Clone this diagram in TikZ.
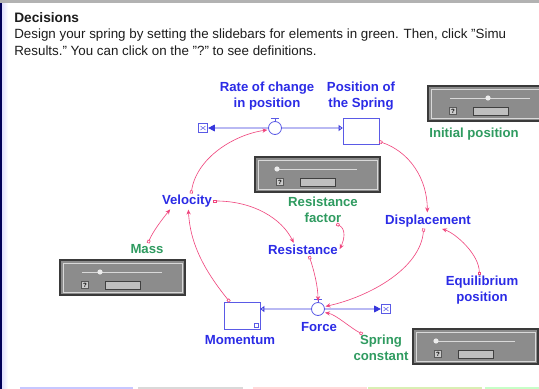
\documentclass[tikz,border=0pt]{standalone}
\usepackage{fontspec}
\setmainfont{Liberation Sans}
\usepackage{tikz}
\usetikzlibrary{arrows.meta, positioning, calc}
\definecolor{varblue}{HTML}{2B2BE6}
\definecolor{pargreen}{HTML}{2F9B60}
\definecolor{linkpink}{HTML}{F0457D}
\definecolor{pipeblue}{HTML}{3636DC}
\definecolor{stockblue}{HTML}{5A5AE6}
\definecolor{sliderdark}{HTML}{3A3A3A}
\definecolor{slidergrey}{HTML}{8C8C8C}
\definecolor{headtext}{HTML}{1C1C1C}

% one slidebar: #1 name, #2 top left corner, #3 knob offset
\newcommand{\slidebar}[3]{%
  \begin{scope}[shift={#2}]
    \node[sliderbox] (#1) at (62.5,17.5) {};
    \draw[sliderrim] (3,3) rectangle (122,32);
    \draw[sliderrail] (22,12) -- (102,12);
    \fill[white!85!gray] (22+#3,12) circle (2.6);
    \node[helpbox] (#1-q) at (25,25) {?};
    \node[fieldbox] (#1-f) at (62.5,25) {};
  \end{scope}}

\begin{document}
\begin{tikzpicture}[x=0.02cm, y=-0.02cm,
    varlabel/.style={font=\fontsize{7.5}{8.8}\selectfont\bfseries, text=varblue,
                     align=center, inner sep=0.6pt},
    parlabel/.style={varlabel, text=pargreen},
    headline/.style={font=\fontsize{7.6}{9}\selectfont, text=headtext, inner sep=0, anchor=base west},
    stock/.style={rectangle, draw=stockblue, fill=white, line width=0.45pt,
                  minimum width=20.4pt, minimum height=14.7pt, inner sep=0},
    valve/.style={circle, draw=stockblue, fill=white, line width=0.45pt,
                  minimum size=7.4pt, inner sep=0},
    sink/.style={rectangle, draw=stockblue, fill=white, line width=0.4pt,
                 minimum size=5.4pt, inner sep=0},
    pipe/.style={draw=pipeblue, line width=0.5pt, double=pipeblue!35, double distance=0.7pt,
                 {Triangle[open, length=2.3pt, width=3.4pt]}-{Triangle[length=3.8pt, width=3.8pt]}},
    link/.style={linkpink, line width=0.35pt, shorten >=0.6pt,
                 {Square[open, length=1.7pt, width=1.7pt]}-{Stealth[length=2.8pt, width=2.4pt]}},
    sliderbox/.style={rectangle, draw=sliderdark, line width=1.1pt, fill=slidergrey,
                      minimum width=70.9pt, minimum height=19.8pt, inner sep=0},
    sliderrim/.style={draw=gray!30, line width=0.35pt},
    sliderrail/.style={draw=white!70!gray, line width=0.4pt},
    helpbox/.style={rectangle, draw=black!65, fill=gray!40, line width=0.3pt, minimum size=4pt,
                    inner sep=0, font=\fontsize{3.5}{3.5}\selectfont\bfseries},
    fieldbox/.style={rectangle, draw=black!75, fill=gray!50, line width=0.4pt,
                     minimum width=19.8pt, minimum height=4.6pt, inner sep=0}
]
\useasboundingbox (0,0) rectangle (539,389);
\clip (0,0) rectangle (539,389);
\fill[white] (0,0) rectangle (539,389);

% window edges
\shade[left color=blue!12, right color=white] (2,0) rectangle (8,389);
\fill[black!65!blue] (0,0) rectangle (1.8,389);
\fill[gray!60] (0,0) rectangle (539,2.5);
\fill[blue!22] (20,386.5) rectangle (133,389);
\fill[gray!30] (138,386.5) rectangle (243,389);
\fill[red!15] (253,386.5) rectangle (367,389);
\fill[yellow!50!green!30] (368,386.5) rectangle (482,389);
\fill[green!22] (485,386.5) rectangle (539,389);

% heading
\node[headline, font=\fontsize{7.8}{9}\selectfont\bfseries] (head) at (14,22) {Decisions};
\node[headline] (intro1) at (14,38) {Design your spring by setting the slidebars for elements in green. Then, click \symbol{34}Simu};
\node[headline] (intro2) at (14,55) {Results.\symbol{34} You can click on the \symbol{34}?\symbol{34} to see definitions.};

% slidebars
\slidebar{sInit}{(428,86)}{38}
\slidebar{sRes}{(255,157)}{0}
\slidebar{sMass}{(60,260)}{18}
\slidebar{sSpring}{(413,329)}{1}

% stocks, clouds and labels
\node[stock] (posbox) at (361,131) {};
\node[stock, minimum height=15.3pt] (mombox) at (242,315.5) {};
\draw[stockblue, line width=0.3pt] ($(mombox.south east)+(-6,-2)$) rectangle ++(4,-4);
\node[sink] (sinkA) at (203,128) {};
\node[sink] (sinkB) at (386,309) {};
\foreach \s in {sinkA, sinkB}
  \draw[stockblue, line width=0.3pt] (\s.center) ++(-2.5,-2) -- ++(2.5,2) -- ++(2.5,-2)
        (\s.center) ++(-2.5,2) -- ++(2.5,-2) -- ++(2.5,2);

\node[varlabel] (rate) at (267,96) {Rate of change\\in position};
\node[varlabel] (poslab) at (361,96) {Position of\\the Spring};
\node[parlabel] (init) at (474,134) {Initial position};
\node[parlabel] (resf) at (323,210) {Resistance\\factor};
\node[varlabel] (disp) at (428,221) {Displacement};
\node[varlabel] (vel) at (187,201) {Velocity};
\node[parlabel] (mass) at (147,249) {Mass};
\node[varlabel] (res) at (303,250) {Resistance};
\node[varlabel] (equi) at (482,290) {Equilibrium\\position};
\node[varlabel] (momlab) at (240,340) {Momentum};
\node[varlabel] (force) at (319,327) {Force};
\node[parlabel] (spring) at (381,348) {Spring\\constant};

% flows
\draw[pipe] (posbox.west |- 0,128) -- (sinkA.east);
\draw[pipe] (mombox.east |- 0,309) -- (sinkB.west);
\node[valve] (valveA) at (275,128) {};
\node[valve] (valveB) at (318,309) {};
\foreach \v in {valveA, valveB}
  \draw[stockblue, line width=0.4pt] (\v.north) -- ++(0,-3) ++(-4,0) -- ++(8,0);

% connectors
\draw[link] (vel.61) .. controls +(5,-35) and +(-35,5) .. (valveA.195);
\draw[link] (posbox.-30) .. controls +(30,10) and +(0,-35) .. (disp.95);
\draw[link] (vel.east) .. controls +(40,0) and +(-12,-25) .. (res.145);
\draw[link] (mass.80) .. controls +(5,-12) and +(-8,10) .. (vel.205);
\draw[link] (mombox.132) .. controls +(-20,-25) and +(2,40) .. (vel.280);
\draw[link] (resf.-46) .. controls +(10,5) and +(5,-10) .. (res.east);
\draw[link] (res.-45) .. controls +(5,15) and +(0,-15) .. (valveB.north);
\draw[link] (disp.-120) .. controls +(-3,40) and +(45,-10) .. (valveB.20);
\draw[link] (equi.100) .. controls +(0,-20) and +(15,5) .. (disp.-30);
\draw[link] (spring.143) .. controls +(-12,-6) and +(12,2) .. (valveB.-30);
\end{tikzpicture}
\end{document}
